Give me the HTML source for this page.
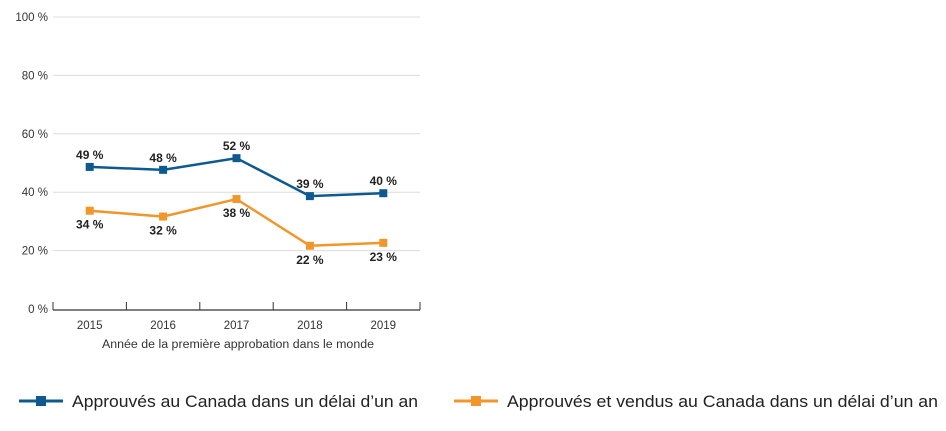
<!DOCTYPE html>
<html><head><meta charset="utf-8"><style>
body{margin:0;background:#fff;width:946px;height:426px;overflow:hidden;font-family:"Liberation Sans",sans-serif}
</style></head><body>
<svg id="chart" width="946" height="426" xmlns="http://www.w3.org/2000/svg"></svg>
<script>
const categories=["2015","2016","2017","2018","2019"];
const seriesApproved=[49,48,52,39,40];
const seriesSold=[34,32,38,22,23];
const yTicks=[0,20,40,60,80,100];
const svg=document.getElementById('chart');
const NS='http://www.w3.org/2000/svg';
const x0=53,bw=73.4,yTop=17,yBot=309;
const xs=i=>x0+bw*(i+0.5);
const ys=v=>yBot-(v/100)*(yBot-yTop)+1;
function mk(t,a,txt){const e=document.createElementNS(NS,t);for(const k in a)e.setAttribute(k,a[k]);if(txt!=null)e.textContent=txt;svg.appendChild(e);return e;}
yTicks.forEach(v=>{
 if(v>0){const g=mk('line',{x1:x0,x2:420,y1:ys(v)-1,y2:ys(v)-1,stroke:'#dcdcdc','stroke-width':1});
 
 }
 const t=mk('text',{x:48,y:ys(v)+3,'text-anchor':'end','font-size':11.5,fill:'#333'},v+' %');
 
 
});
const ax=mk('line',{x1:x0,x2:420,y1:yBot+1,y2:yBot+1,stroke:'#333','stroke-width':1.2});


for(let i=0;i<=categories.length;i++){const tk=mk('line',{x1:x0+bw*i,x2:x0+bw*i,y1:yBot-7,y2:yBot+1,stroke:'#333','stroke-width':1});

}
categories.forEach((c,i)=>{const t=mk('text',{x:xs(i),y:329,'text-anchor':'middle','font-size':11.5,fill:'#333'},c);

});
const xt=mk('text',{x:102,y:348,'font-size':11.5,fill:'#333',textLength:272,lengthAdjust:'spacingAndGlyphs'},'Année de la première approbation dans le monde');


function series(vals,color,name,above){
 const p=mk('polyline',{points:vals.map((v,i)=>xs(i)+','+ys(v)).join(' '),fill:'none',stroke:color,'stroke-width':2.5});
 
 
 vals.forEach((v,i)=>{
  const m=mk('rect',{x:xs(i)-4,y:ys(v)-4,width:8,height:8,fill:color});
  
  
  const l=mk('text',{x:xs(i),y:above?ys(v)-8:ys(v)+18,'text-anchor':'middle','font-size':12,'font-weight':'bold',fill:'#222'},v+' %');
  
  
 });
}
series(seriesApproved,'#0e5a8e','approved',true);
series(seriesSold,'#f0962a','sold',false);
function legend(x,color,label,name,len){
 const l=mk('line',{x1:x,x2:x+44,y1:401,y2:401,stroke:color,'stroke-width':3});
 
 
 const r=mk('rect',{x:x+17,y:396,width:10,height:10,fill:color});
 
 
 const t=mk('text',{x:x+53,y:407,'font-size':17,fill:'#222',textLength:len,lengthAdjust:'spacingAndGlyphs'},label);
 
 
}
legend(19,'#0e5a8e','Approuvés au Canada dans un délai d’un an','approved',346);
legend(454,'#f0962a','Approuvés et vendus au Canada dans un délai d’un an','sold',431);
</script>
</body></html>
